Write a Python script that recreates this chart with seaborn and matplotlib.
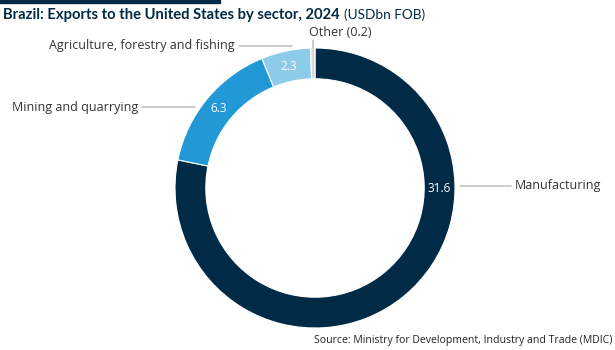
import numpy as np
import seaborn as sns
import matplotlib.pyplot as plt

sectors = ["Manufacturing", "Mining and quarrying", "Agriculture, forestry and fishing", "Other"]
values = [31.6, 6.3, 2.3, 0.2]
colors = ["#002a46", "#2299d6", "#8dcbeb", "#d9d9d9"]

sns.set_theme(style="white")
plt.rcParams["font.family"] = ["Open Sans", "DejaVu Sans"]

W, H = 615, 350
fig = plt.figure(figsize=(W / 100, H / 100), dpi=100)
cx, cy, R = 315, 188, 140
ax = fig.add_axes([(cx - R) / W, (H - cy - R) / H, 2 * R / W, 2 * R / H])

wedges, _ = ax.pie(values, colors=colors, startangle=90, counterclock=False,
                   radius=1, wedgeprops=dict(width=0.22, edgecolor="white", linewidth=0.8))
ax.set_xlim(-1, 1)
ax.set_ylim(-1, 1)
ax.set_aspect("equal")
ax.axis("off")

# value labels inside the ring
total = sum(values)
r_mid = 0.89
cum = 0
for i, v in enumerate(values):
    mid = 90 - (cum + v / 2) / total * 360
    cum += v
    if i == 0:
        mid = 0
    if i == 3:
        continue
    t = np.deg2rad(mid)
    ax.text(r_mid * np.cos(t), r_mid * np.sin(t), f"{v:.1f}", color="white",
            ha="center", va="center", fontsize=8.5)

line_kw = dict(color="#c4c4c4", lw=1.2)
txt_kw = dict(color="#333333", fontsize=9)

def px(x, y):
    return (x - cx) / R, (cy - y) / R

# Manufacturing
x0, y0 = px(460, 186); x1, _ = px(511, 186)
ax.plot([x0, x1], [y0, y0], **line_kw, clip_on=False)
ax.text(x1 + 0.03, y0, sectors[0], ha="left", va="center", **txt_kw)
# Mining
x0, y0 = px(142, 107); x1, _ = px(195, 107)
ax.plot([x0, x1], [y0, y0], **line_kw, clip_on=False)
ax.text(x0 - 0.03, y0, sectors[1], ha="right", va="center", **txt_kw)
# Agriculture
x0, y0 = px(239, 46); x1, _ = px(292, 46)
ax.plot([x0, x1], [y0, y0], **line_kw, clip_on=False)
ax.text(x0 - 0.03, y0, sectors[2], ha="right", va="center", **txt_kw)
# Other
x0, y0 = px(313, 40); _, y1 = px(313, 48)
ax.plot([x0, x0], [y0, y1], **line_kw, clip_on=False)
ax.text(x0 - 0.03, y0 + 0.01, f"{sectors[3]} ({values[3]})", ha="left", va="bottom", **txt_kw)

# title with bold + regular parts
fig.patches.append(plt.Rectangle((0, 1 - 3 / H), 220 / W, 3 / H, transform=fig.transFigure,
                                 color="#002a46"))
t1 = fig.text(3 / W, 1 - 15 / H, "Brazil: Exports to the United States by sector, 2024",
              fontsize=10.6, fontweight="bold", color="#002a46", va="center", family="Lato")
fig.canvas.draw()
bb = t1.get_window_extent()
fig.text(bb.x1 / W + 4 / W, 1 - 15 / H, "(USDbn FOB)", fontsize=9.8, color="#002a46",
         va="center", family="Lato")

fig.text(1 - 3 / W, 1 - 340 / H, "Source: Ministry for Development, Industry and Trade (MDIC)",
         ha="right", va="center", fontsize=7.6, color="#222222")

fig.savefig("out.png", dpi=100)
